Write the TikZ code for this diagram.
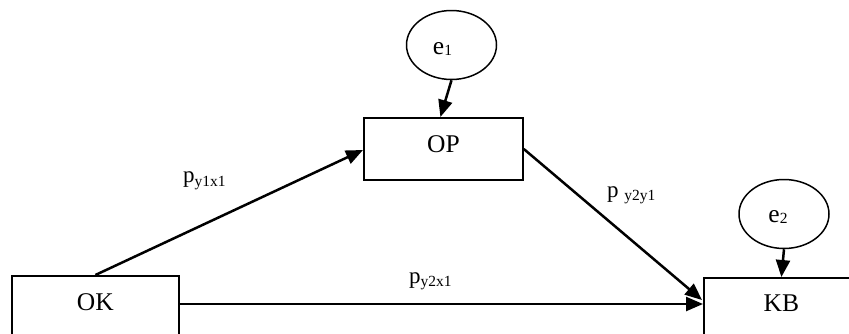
\documentclass[tikz,border=0pt]{standalone}
\usepackage{fontspec}
\setmainfont{Liberation Serif}
\usetikzlibrary{arrows.meta,shapes.geometric,calc}
\newcommand{\bigtxt}{\fontsize{25.5}{30}\selectfont}
\newcommand{\ptxt}{\fontsize{23}{27}\selectfont}
\newcommand{\subtxt}[2]{\raisebox{#1}{\fontsize{15.5}{17}\selectfont #2}}
\begin{document}
\begin{tikzpicture}[x=1pt,y=-1pt,
  box/.style={draw,line width=1.8pt,rectangle,inner sep=0pt,anchor=north west,font=\bigtxt},
  err/.style={draw,line width=1.5pt,ellipse,inner sep=0pt,minimum width=90pt,minimum height=69pt},
  lbl/.style={inner sep=0pt,anchor=base west},
  arr/.style={line width=2.5pt,-{Triangle[length=17pt,width=14pt]}}]
\useasboundingbox (0,0) rectangle (849,333);
\node[box,minimum width=167pt,text height=35pt,text depth=40pt] (ok) at (11,275) {OK};
\node[box,minimum width=159pt,text height=35pt,text depth=27pt] (op) at (363,117) {OP};
\node[box,minimum width=155pt,text height=34pt,text depth=40pt] (kb) at (703,277) {KB};
\node[err] (e1) at (451.5,45) {};
\node[err] (e2) at (784,214) {};
\node[inner sep=0pt,anchor=base,font=\bigtxt] (e1t) at ($(e1.center)+(-9,9)$) {e\subtxt{-1.5pt}{1}};
\node[inner sep=0pt,anchor=base,font=\bigtxt] (e2t) at ($(e2.center)+(-6,8)$) {e\subtxt{-1.5pt}{2}};
\draw[arr] (e1.south) -- ($(op.north)+(-3,0)$);
\draw[arr] (e2.south) -- (kb.north);
\draw[arr] (ok.north) -- ($(op.north west)+(0,33)$);
\draw[arr] ($(op.north east)+(0,32)$) -- ($(kb.north west)+(-1,23)$);
\draw[arr] ($(ok.north east)+(0,29)$) -- ($(kb.north west)+(0,27)$);
\node[lbl] (l1) at (183,182) {\ptxt p\subtxt{-4pt}{y1x1}};
\node[lbl] (l2) at (409,283) {\ptxt p\subtxt{-3pt}{y2x1}};
\node[lbl] (l3) at (607,197) {\ptxt p \subtxt{-3pt}{y2y1}};
\end{tikzpicture}
\end{document}
